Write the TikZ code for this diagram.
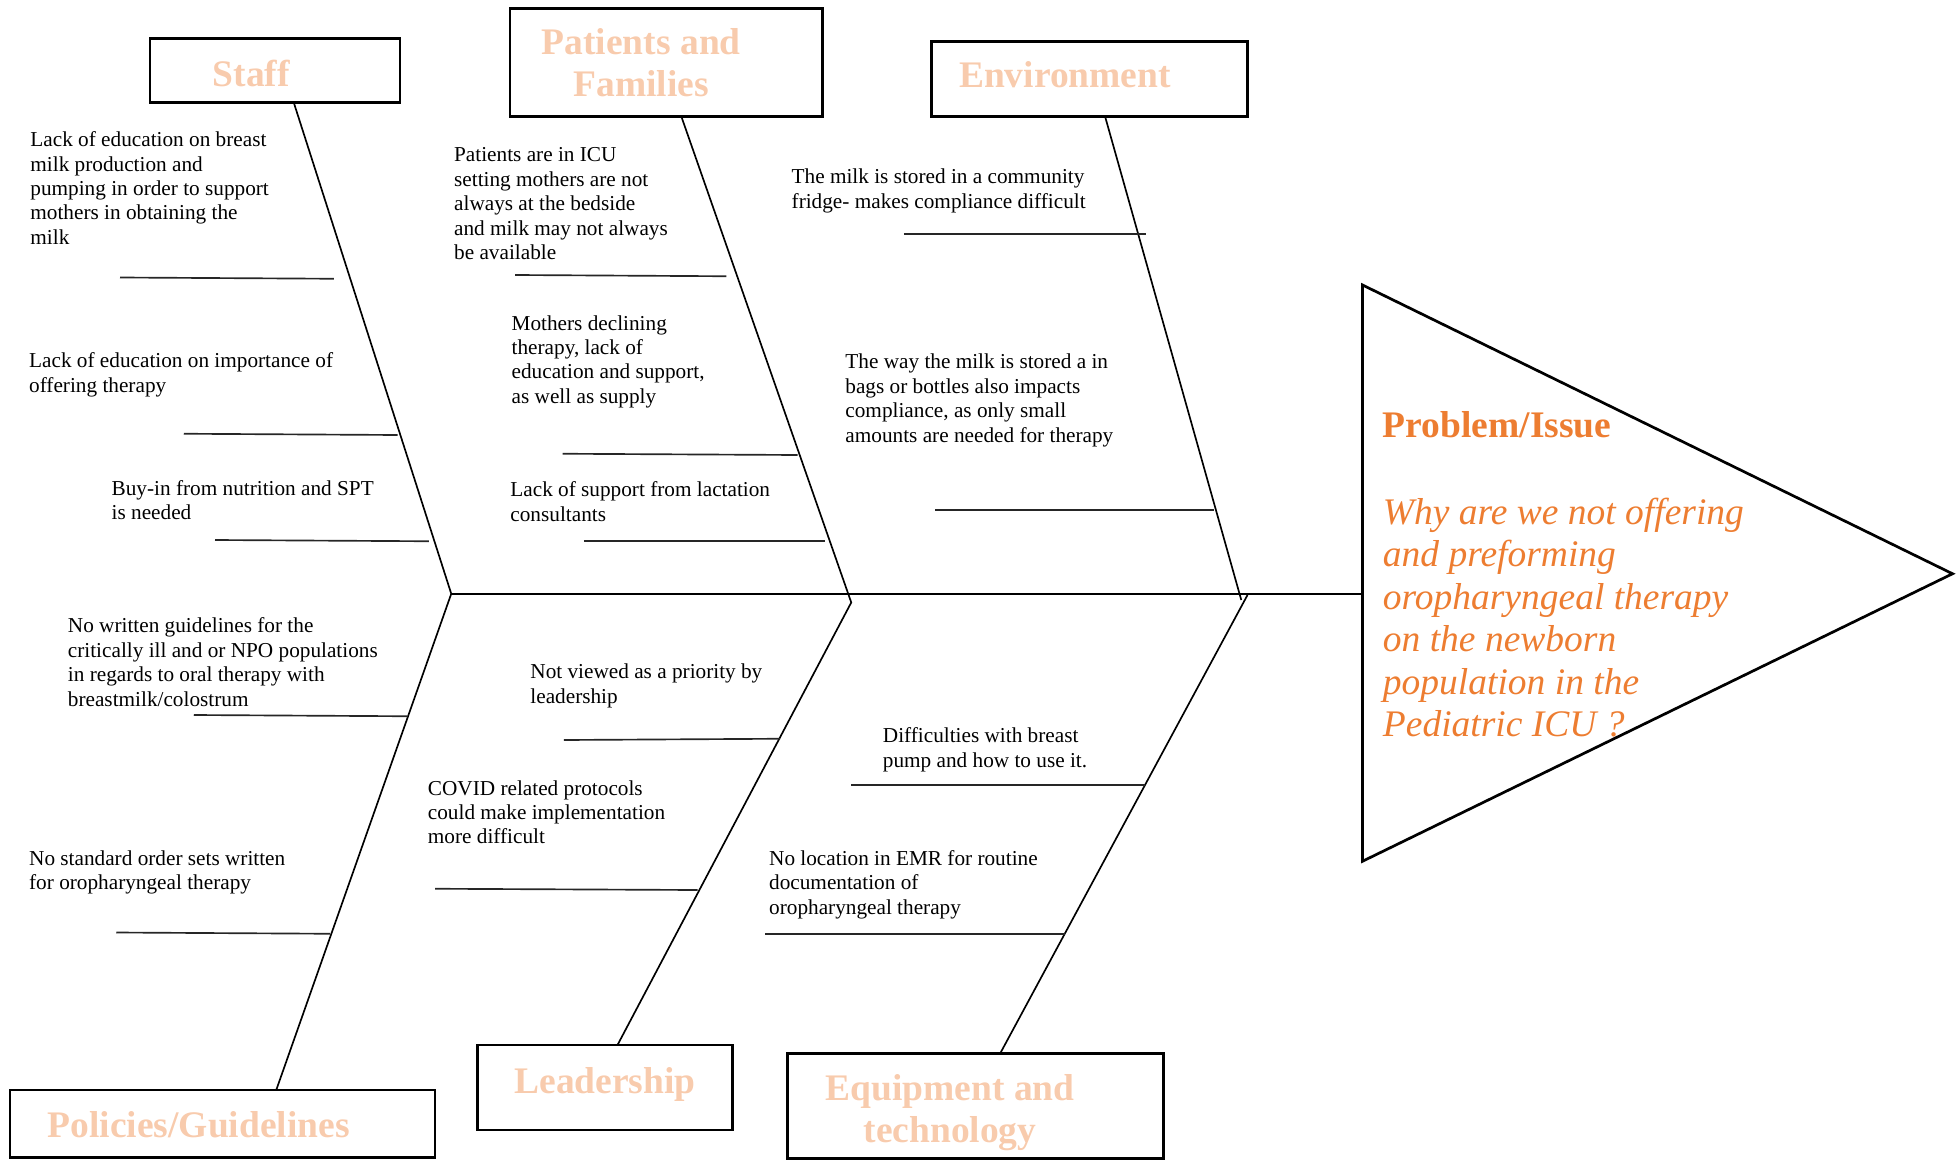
\documentclass[tikz,border=0pt]{standalone}
\usepackage{fontspec}
\setmainfont{Liberation Serif}
\definecolor{mypeach}{HTML}{F8CBAD}
\definecolor{myorange}{HTML}{ED7D31}
\usepackage{tikz}
\usetikzlibrary{positioning, fit}
\tikzset{
	catbox/.style={draw, line width=1.3pt, inner sep=0pt}
}
\tikzset{
	cattext/.style={font=\fontsize{18}{20.2}\selectfont\bfseries, text=mypeach, align=center, inner sep=0pt, anchor=north}
}
\tikzset{
	causetext/.style={font=\fontsize{10.2}{11.7}\selectfont, align=left, inner sep=0pt, anchor=north west}
}
\tikzset{
	probtext/.style={text=myorange, align=left, inner sep=0pt, anchor=north west},
	bone/.style={line width=0.8pt},
	rib/.style={line width=0.8pt, black!85}
}

\begin{document}
\begin{tikzpicture}[x=0.6pt, y=-0.6pt]
      \useasboundingbox (0,0) rectangle (1568,929);
      % category boxes
      \node[catbox, fit={(120,31) (320,82)}] (staff) {};
      \node[catbox, fit={(408,7) (658,93)}] (patients) {};
      \node[catbox, fit={(745,33) (998,93)}] (environ) {};
      \node[catbox, fit={(8,872) (348,926)}] (policies) {};
      \node[catbox, fit={(382,836) (586,904)}] (leader) {};
      \node[catbox, fit={(630,843) (931,927)}] (equip) {};
      \node[cattext] (staffT) at (201,47.5) {Staff};
      \node[cattext] (patientsT) at (513,22.5) {Patients and\\Families};
      \node[cattext] (environT) at (852,49) {Environment};
      \node[cattext] (policiesT) at (159,889) {Policies/Guidelines};
      \node[cattext] (leaderT) at (484,853.5) {Leadership};
      \node[cattext] (equipT) at (760,859) {Equipment and\\technology};
      % joints on the spine and bone ends on the boxes
      \coordinate (jA) at (361,475);
      \coordinate (jB) at (681,482);
      \coordinate (jC) at (993,480);
      \coordinate (jD) at (998,476);
      \coordinate (staffB) at (235,82);
      \coordinate (patientsB) at (545,93);
      \coordinate (environB) at (884,93);
      \coordinate (policiesB) at (221,872);
      \coordinate (leaderB) at (494,836);
      \coordinate (equipB) at (800,843);
      % head
      \coordinate (triTop) at (1090,228);
      \coordinate (triTip) at (1562,459);
      \coordinate (triBot) at (1090,689);
      \coordinate (spineEnd) at (1090,475);
      \draw[line width=1.3pt, line join=miter] (triTop) -- (triTip) -- (triBot) -- cycle;
      \draw[bone] (jA) -- (spineEnd);
      % bones
      \draw[bone] (staffB) -- (jA) -- (policiesB);
      \draw[bone] (patientsB) -- (jB) -- (leaderB);
      \draw[bone] (environB) -- (jC);
      \draw[bone] (jD) -- (equipB);
      % ribs under each cause
      \foreach \xa/\ya/\xb/\yb in {
        96/222/267/223, 147/347/318/348, 172/432/343/433,
        412/220/581/221, 450/363/638/364, 467/433/660/433,
        723/187/917/187, 748/408/971/408,
        155/572/326/573, 93/746/264/747,
        451/592/624/591, 348/711/558/712,
        681/628/916/628, 612/747/852/747}
        \draw[rib] (\xa,\ya) -- (\xb,\yb);
      % causes
      \node[causetext] (s1) at (24,105) {Lack of education on breast\\milk production and\\pumping in order to support\\mothers in obtaining the\\milk};
      \node[causetext] (s2) at (23,282) {Lack of education on importance of\\offering therapy};
      \node[causetext] (s3) at (89,384) {Buy-in from nutrition and SPT\\is needed};
      \node[causetext] (p1) at (363,118) {Patients are in ICU\\setting mothers are not\\always at the bedside\\and milk may not always\\be available};
      \node[causetext] (p2) at (409,252) {Mothers declining\\therapy, lack of\\education and support,\\as well as supply};
      \node[causetext] (p3) at (408,385) {Lack of support from lactation\\consultants};
      \node[causetext] (e1) at (633,135) {The milk is stored in a community\\fridge- makes compliance difficult};
      \node[causetext] (e2) at (676,283) {The way the milk is stored a in\\bags or bottles also impacts\\compliance, as only small\\amounts are needed for therapy};
      \node[causetext] (g1) at (54,494) {No written guidelines for the\\critically ill and or NPO populations\\in regards to oral therapy with\\breastmilk/colostrum};
      \node[causetext] (g2) at (23,680) {No standard order sets written\\for oropharyngeal therapy};
      \node[causetext] (l1) at (424,531) {Not viewed as a priority by\\leadership};
      \node[causetext] (l2) at (342,624) {COVID related protocols\\could make implementation\\more difficult};
      \node[causetext] (q1) at (706,582) {Difficulties with breast\\pump and how to use it.};
      \node[causetext] (q2) at (615,680) {No location in EMR for routine\\documentation of\\oropharyngeal therapy};
      % problem statement
      \node[probtext, font=\fontsize{18}{20.4}\selectfont\bfseries] (probT) at (1106,329) {Problem/Issue};
      \node[probtext, font=\fontsize{18}{20.4}\selectfont\itshape] (probQ) at (1106,398) {Why are we not offering\\and preforming\\oropharyngeal therapy\\on the newborn\\population in the\\Pediatric ICU ?};
    \end{tikzpicture}
\end{document}
